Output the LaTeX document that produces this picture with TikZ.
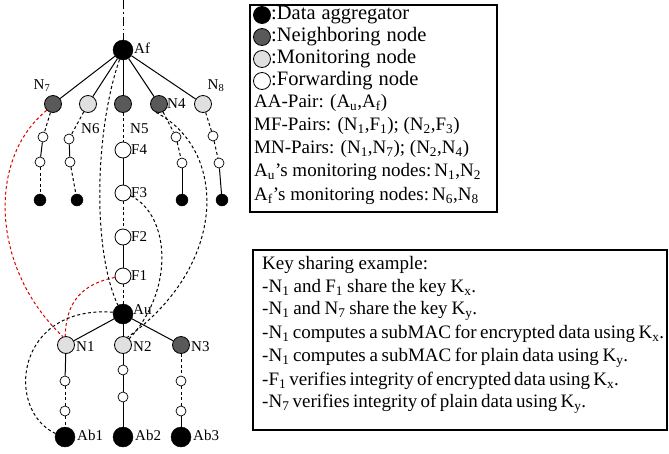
\documentclass[tikz,border=0pt]{standalone}
\usepackage{fontspec}
\setmainfont{Liberation Serif}
\newcommand\legfont{\fontsize{20.5}{22}\selectfont\spaceskip=6pt plus 1pt\relax}
\newcommand\keyfont{\fontsize{19}{21}\selectfont}
\newcommand\kline[2]{\makebox[#1pt][s]{#2}}
\begin{document}
\begin{tikzpicture}[x=1pt,y=-1pt,
  agg/.style={circle,draw=black,fill=black,inner sep=0pt,minimum size=20pt},
  aggs/.style={circle,draw=black,fill=black,inner sep=0pt,minimum size=12pt},
  nbr/.style={circle,draw=black,fill=black!65,inner sep=0pt,minimum size=17pt,line width=0.8pt},
  mon/.style={circle,draw=black,fill=black!12,inner sep=0pt,minimum size=17pt,line width=0.8pt},
  fwd/.style={circle,draw=black,fill=white,inner sep=0pt,minimum size=16pt,line width=0.8pt},
  fsm/.style={circle,draw=black,fill=white,inner sep=0pt,minimum size=10pt,line width=0.7pt},
  lbl/.style={inner sep=0pt,font=\fontsize{15}{17}\selectfont},
  keytxt/.style={inner sep=0pt,anchor=west,font=\legfont},
  txt/.style={inner sep=0pt,anchor=west,font=\fontsize{19}{21}\selectfont},
  ktxt/.style={inner sep=0pt,anchor=west,font=\keyfont},
  edge/.style={line width=1pt},
  dsh/.style={line width=1pt,dash pattern=on 3pt off 2.5pt},
  rdsh/.style={line width=1pt,dash pattern=on 3pt off 2.5pt,red!85!black},
  box/.style={draw=black,line width=2pt},
  legc/.style={circle,draw=black,inner sep=0pt,minimum size=17pt,line width=0.8pt}
]
\useasboundingbox (0,0) rectangle (669,453);
% ---- tree nodes
\node[agg] (Af) at (123,50) {};
\coordinate (top) at (123,0);
\node[nbr] (N7) at (53,104) {};
\node[mon] (N6) at (88,104) {};
\node[nbr] (N5) at (123,104) {};
\node[nbr] (N4) at (159,104) {};
\node[mon] (N8) at (203,104) {};
\node[fsm] (a1) at (43,137) {};
\node[fsm] (a2) at (40,162) {};
\node[aggs] (ba) at (40,200) {};
\node[fsm] (b1) at (69,139) {};
\node[fsm] (b2) at (70,162) {};
\node[aggs] (bb) at (77,200) {};
\node[fwd] (F4) at (123,150) {};
\node[fwd] (F3) at (123,193) {};
\node[fwd] (F2) at (123,237) {};
\node[fwd] (F1) at (123,276) {};
\node[agg] (Au) at (123,314) {};
\node[fsm] (c1) at (176,137) {};
\node[fsm] (c2) at (182,163) {};
\node[aggs] (bc) at (182,200) {};
\node[fsm] (d1) at (213,136) {};
\node[fsm] (d2) at (219,163) {};
\node[aggs] (bd) at (222,200) {};
\node[mon] (N1) at (66,345) {};
\node[mon] (N2) at (123,345) {};
\node[nbr] (N3) at (181,345) {};
\node[fsm] (e1) at (65,381) {};
\node[fsm] (e2) at (65,411) {};
\node[agg] (Ab1) at (65,437) {};
\node[fsm] (f1) at (123,370) {};
\node[fsm] (f2) at (123,397) {};
\node[agg] (Ab2) at (123,437) {};
\node[fsm] (g1) at (181,381) {};
\node[fsm] (g2) at (181,411) {};
\node[agg] (Ab3) at (181,437) {};
% ---- labels
\node[lbl,anchor=west] (lAf) at (134,48) {Af};
\node[lbl] (lN7) at (42,86) {N\textsubscript{7}};
\node[lbl] (lN8) at (216,86) {N\textsubscript{8}};
\node[lbl,anchor=west] (lN4) at (167,104) {N4};
\node[lbl,anchor=west] (lN6) at (81,129) {N6};
\node[lbl,anchor=west] (lN5) at (130,129) {N5};
\node[lbl,anchor=west] (lF4) at (131,150) {F4};
\node[lbl,anchor=west] (lF3) at (131,193) {F3};
\node[lbl,anchor=west] (lF2) at (131,237) {F2};
\node[lbl,anchor=west] (lF1) at (131,276) {F1};
\node[lbl,anchor=west] (lAu) at (133,310) {Au};
\node[lbl,anchor=west] (lN1) at (76,347) {N1};
\node[lbl,anchor=west] (lN2) at (133,347) {N2};
\node[lbl,anchor=west] (lN3) at (191,347) {N3};
\node[lbl,anchor=west] (lAb1) at (77,435) {Ab1};
\node[lbl,anchor=west] (lAb2) at (135,435) {Ab2};
\node[lbl,anchor=west] (lAb3) at (193,435) {Ab3};
% ---- tree edges
\draw[line width=1pt,dash pattern=on 9pt off 3pt on 1.5pt off 3pt] (top) -- (Af);
\foreach \n in {N7,N6,N5,N4,N8} \draw[edge] (Af) -- (\n);
\draw[dsh] (N7) -- (a1); \draw[edge] (a1) -- (a2); \draw[dsh] (a2) -- (ba);
\draw[dsh] (N6) -- (b1); \draw[edge] (b1) -- (b2); \draw[dsh] (b2) -- (bb);
\draw[dsh] (N5) -- (F4); \draw[edge] (F4) -- (F3); \draw[dsh] (F3) -- (F2);
\draw[edge] (F2) -- (F1); \draw[dsh] (F1) -- (Au);
\draw[dsh] (N4) -- (c1); \draw[dsh] (c1) -- (c2); \draw[edge] (c2) -- (bc);
\draw[dsh] (N8) -- (d1); \draw[dsh] (d1) -- (d2); \draw[edge] (d2) -- (bd);
\foreach \n in {N1,N2,N3} \draw[edge] (Au) -- (\n);
\draw[edge] (N1) -- (e1); \draw[dsh] (e1) -- (e2); \draw[dsh] (e2) -- (Ab1);
\draw[edge] (N2) -- (f1); \draw[edge] (f1) -- (f2); \draw[edge] (f2) -- (Ab2);
\draw[dsh] (N3) -- (g1); \draw[dsh] (g1) -- (g2); \draw[edge] (g2) -- (Ab3);
% ---- pair curves
\draw[rdsh] (N7.225) .. controls (-14,160) and (-8,270) .. (N1.110);
\draw[rdsh] (F1.190) .. controls (82,284) and (66,302) .. (N1.95);
\draw[dsh] (Af.250) .. controls (95,130) and (92,250) .. (Au.120);
\draw[dsh] (N4.250) .. controls (228,150) and (228,265) .. (N2.60);
\draw[dsh] (F3.-20) .. controls (170,215) and (175,290) .. (N2.45);
\draw[dsh] (Au.170) .. controls (15,305) and (5,410) .. (Ab1.160);
% ---- legend box
\draw[box] (250,5) rectangle (497,212);
\node[legc,fill=black] (k1) at (262,15) {};
\node[legc,fill=black!65] (k2) at (262,37) {};
\node[legc,fill=black!12] (k3) at (262,59) {};
\node[legc,fill=white] (k4) at (262,81) {};
\node[keytxt] (t1) at (271,15) {:Data aggregator};
\node[keytxt] (t2) at (271,37) {:Neighboring node};
\node[keytxt] (t3) at (271,59) {:Monitoring node};
\node[keytxt] (t4) at (271,81) {:Forwarding node};
\node[txt] (t5) at (254,103) {AA-Pair: (A\textsubscript{u},A\textsubscript{f})};
\node[txt] (t6) at (254,126) {MF-Pairs: (N\textsubscript{1},F\textsubscript{1}); (N\textsubscript{2},F\textsubscript{3})};
\node[txt] (t7) at (254,149) {MN-Pairs: (N\textsubscript{1},N\textsubscript{7}); (N\textsubscript{2},N\textsubscript{4})};
\node[txt] (t8) at (254,172) {A\textsubscript{u}'s monitoring nodes:\,N\textsubscript{1},N\textsubscript{2}};
\node[txt] (t9) at (254,196) {A\textsubscript{f}'s monitoring nodes:\,N\textsubscript{6},N\textsubscript{8}};
% ---- key sharing box
\draw[box] (253,250) rectangle (667,430);
\node[ktxt] (s1) at (262,265) {\kline{166}{Key sharing example:}};
\node[ktxt] (s2) at (262,288) {\kline{214}{-N\textsubscript{1} and F\textsubscript{1} share the key K\textsubscript{x}.}};
\node[ktxt] (s3) at (262,311) {\kline{215}{-N\textsubscript{1} and N\textsubscript{7} share the key K\textsubscript{y}.}};
\node[ktxt] (s4) at (262,334) {\kline{402}{-N\textsubscript{1} computes a subMAC for encrypted data using K\textsubscript{x}.}};
\node[ktxt] (s5) at (262,358) {\kline{366}{-N\textsubscript{1} computes a subMAC for plain data using K\textsubscript{y}.}};
\node[ktxt] (s6) at (262,381) {\kline{356}{-F\textsubscript{1} verifies integrity of encrypted data using K\textsubscript{x}.}};
\node[ktxt] (s7) at (262,404) {\kline{324}{-N\textsubscript{7} verifies integrity of plain data using K\textsubscript{y}.}};
\end{tikzpicture}
\end{document}
